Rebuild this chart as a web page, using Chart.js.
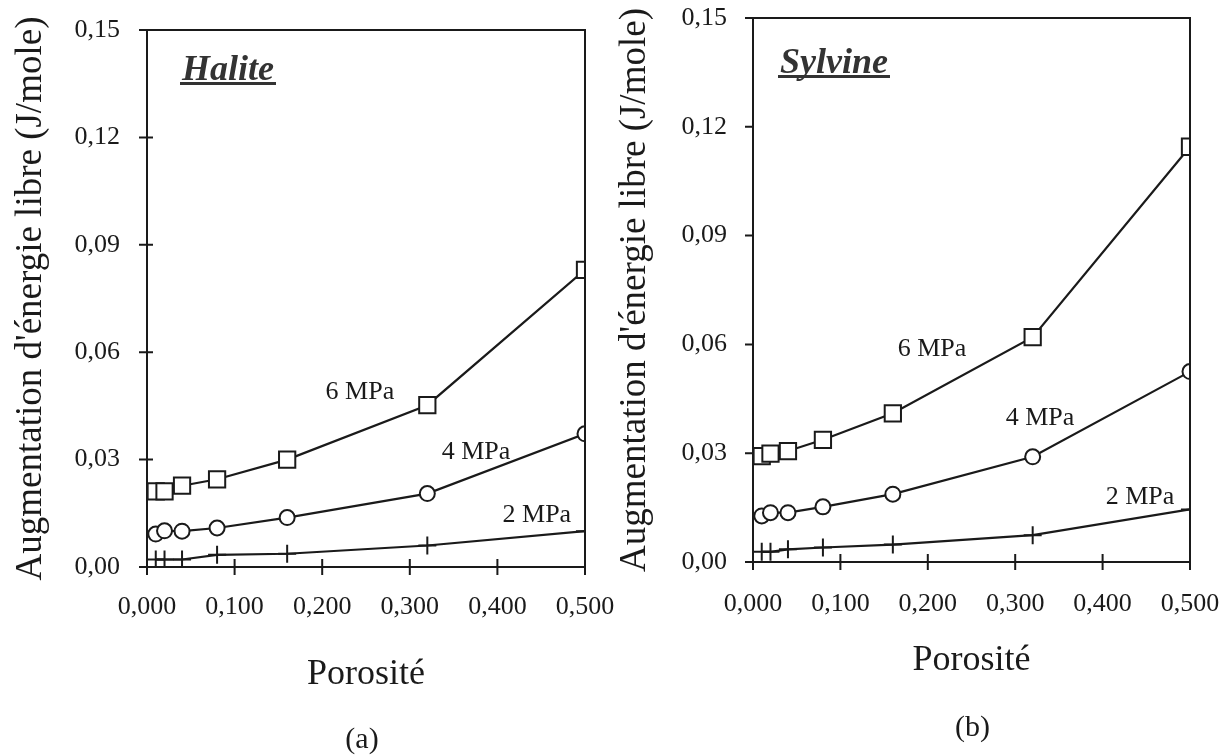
<!DOCTYPE html>
<html><head><meta charset="utf-8">
<script src="https://cdn.jsdelivr.net/npm/chart.js@4"></script>
<style>
html,body{margin:0;padding:0;background:#fff;overflow:hidden;width:1221px;height:756px}
.box{position:absolute;top:0;height:756px}
#boxA{left:0;width:625px}
#boxB{left:605px;width:640px}
</style></head><body>
<div class="box" id="boxA"><canvas id="cA" width="625" height="756"></canvas></div>
<div class="box" id="boxB"><canvas id="cB" width="640" height="756"></canvas></div>
<script>
// ---- data ----
const porosite = [0.01, 0.02, 0.04, 0.08, 0.16, 0.32, 0.50];
const halite6 = [0.0211, 0.0211, 0.0227, 0.0245, 0.0300, 0.0452, 0.0830];
const halite4 = [0.0092, 0.0101, 0.0100, 0.0109, 0.0138, 0.0205, 0.0372];
const halite2 = [0.0021, 0.0021, 0.0021, 0.0034, 0.0037, 0.0060, 0.0100];
const sylvine6 = [0.0292, 0.0299, 0.0306, 0.0337, 0.0410, 0.0620, 0.1145];
const sylvine4 = [0.0127, 0.0136, 0.0136, 0.0152, 0.0187, 0.0290, 0.0525];
const sylvine2 = [0.0028, 0.0028, 0.0035, 0.0040, 0.0048, 0.0074, 0.0145];
const seriesNames = ['6 MPa', '4 MPa', '2 MPa'];
const xTickValues = [0, 0.1, 0.2, 0.3, 0.4, 0.5];
const xTickLabels = ['0,000', '0,100', '0,200', '0,300', '0,400', '0,500'];
const yTickValues = [0, 0.03, 0.06, 0.09, 0.12, 0.15];
const yTickLabels = ['0,00', '0,03', '0,06', '0,09', '0,12', '0,15'];
const yTitle = "Augmentation d'énergie libre (J/mole)";
const xTitle = 'Porosité';

const SERIF = '"Liberation Serif", "Times New Roman", serif';
const INK = '#1a1a1a';

const framePlugin = {
  id: 'frame',
  afterDatasetsDraw(chart, args, o) {
    const {ctx, chartArea: a, scales: {x, y}} = chart;
    ctx.save();
    ctx.strokeStyle = INK; ctx.lineWidth = 2;
    ctx.strokeRect(a.left, a.top, a.right - a.left, a.bottom - a.top);
    ctx.beginPath();
    xTickValues.forEach(v => { const px = x.getPixelForValue(v); ctx.moveTo(px, a.bottom - 8); ctx.lineTo(px, a.bottom + 8); });
    yTickValues.forEach(v => { const py = y.getPixelForValue(v); ctx.moveTo(a.left - 8, py); ctx.lineTo(a.left + o.yIn, py); });
    ctx.stroke();
    // series labels
    ctx.fillStyle = INK;
    ctx.font = '26px ' + SERIF;
    ctx.textAlign = 'center'; ctx.textBaseline = 'middle';
    o.labels.forEach((l, i) => ctx.fillText(seriesNames[i], x.getPixelForValue(l[0]), y.getPixelForValue(l[1])));
    // panel title
    ctx.font = 'bold italic 36px ' + SERIF;
    ctx.textAlign = 'left'; ctx.textBaseline = 'alphabetic';
    ctx.fillStyle = '#333';
    const tx = a.left + o.titleDx, ty = a.top + o.titleDy;
    ctx.fillText(o.title, tx, ty);
    const w = ctx.measureText(o.title).width;
    ctx.fillRect(tx - 2, ty + 2, w + 4, 3);
    // caption
    ctx.fillStyle = INK;
    ctx.font = '30px ' + SERIF;
    ctx.textAlign = 'center'; ctx.textBaseline = 'middle';
    ctx.fillText(o.caption, (a.left + a.right) / 2 + o.capDx, o.capY);
    ctx.restore();
  }
};

function ds(label, vals, style, r) {
  return {
    label, data: porosite.map((p, i) => ({x: p, y: vals[i]})),
    borderColor: INK, borderWidth: 2.2, pointStyle: style, pointRadius: r,
    pointBackgroundColor: '#fff', pointBorderColor: INK, pointBorderWidth: 2,
    tension: 0, fill: false
  };
}

function noOverflow(s) { s.paddingTop = 0; s.paddingBottom = 0; s.paddingLeft = 0; s.paddingRight = 0; }

function makeChart(id, c) {
  return new Chart(document.getElementById(id), {
    type: 'line',
    data: {datasets: [
      ds(seriesNames[0], c.s6, 'rect', 11.5),
      ds(seriesNames[1], c.s4, 'circle', 7.5),
      ds(seriesNames[2], c.s2, 'cross', 9)
    ]},
    options: {
      responsive: false, animation: false,
      layout: {padding: {left: 0, top: c.top, right: c.right, bottom: 0}},
      plugins: {
        legend: {display: false}, tooltip: {enabled: false},
        frame: c.frame
      },
      scales: {
        x: {
          type: 'linear', min: 0, max: 0.5,
          afterFit(s) { s.height = c.xH; noOverflow(s); },
          afterBuildTicks(s) { s.ticks = xTickValues.map(v => ({value: v})); },
          ticks: {callback: (v, i) => xTickLabels[i], font: {family: SERIF, size: 26}, color: INK, padding: c.xPad, maxRotation: 0, autoSkip: false},
          grid: {display: false, drawTicks: false}, border: {display: false},
          title: {display: true, text: xTitle, color: INK, font: {family: SERIF, size: 36}, padding: {top: 0, bottom: c.xTitlePad}}
        },
        y: {
          type: 'linear', min: 0, max: 0.15,
          afterFit(s) { s.width = c.yW; noOverflow(s); },
          afterBuildTicks(s) { s.ticks = yTickValues.map(v => ({value: v})); },
          ticks: {callback: (v, i) => yTickLabels[i], font: {family: SERIF, size: 26}, color: INK, padding: c.yPad, autoSkip: false},
          grid: {display: false, drawTicks: false}, border: {display: false},
          title: {display: true, text: yTitle, color: INK, font: {family: SERIF, size: 37}, padding: {top: c.yTitlePad, bottom: 0}}
        }
      }
    },
    plugins: [framePlugin]
  });
}

makeChart('cA', {
  s6: halite6, s4: halite4, s2: halite2,
  top: 30, right: 40, xH: 189, yW: 147, xPad: 25, yPad: 27, xTitlePad: 60, yTitlePad: 9,
  frame: {title: 'Halite', titleDx: 35, titleDy: 50, yIn: 6, caption: '(a)', capDx: -4, capY: 740,
    labels: [[0.243, 0.0489], [0.3756, 0.0321], [0.445, 0.0145]]}
});
makeChart('cB', {
  s6: sylvine6, s4: sylvine4, s2: sylvine2,
  top: 18, right: 55, xH: 194, yW: 148, xPad: 27, yPad: 26, xTitlePad: 74, yTitlePad: 8,
  frame: {title: 'Sylvine', titleDx: 27, titleDy: 55, yIn: 0, caption: '(b)', capDx: 1, capY: 728,
    labels: [[0.2048, 0.0587], [0.3284, 0.0397], [0.4428, 0.0179]]}
});
</script>
</body></html>
